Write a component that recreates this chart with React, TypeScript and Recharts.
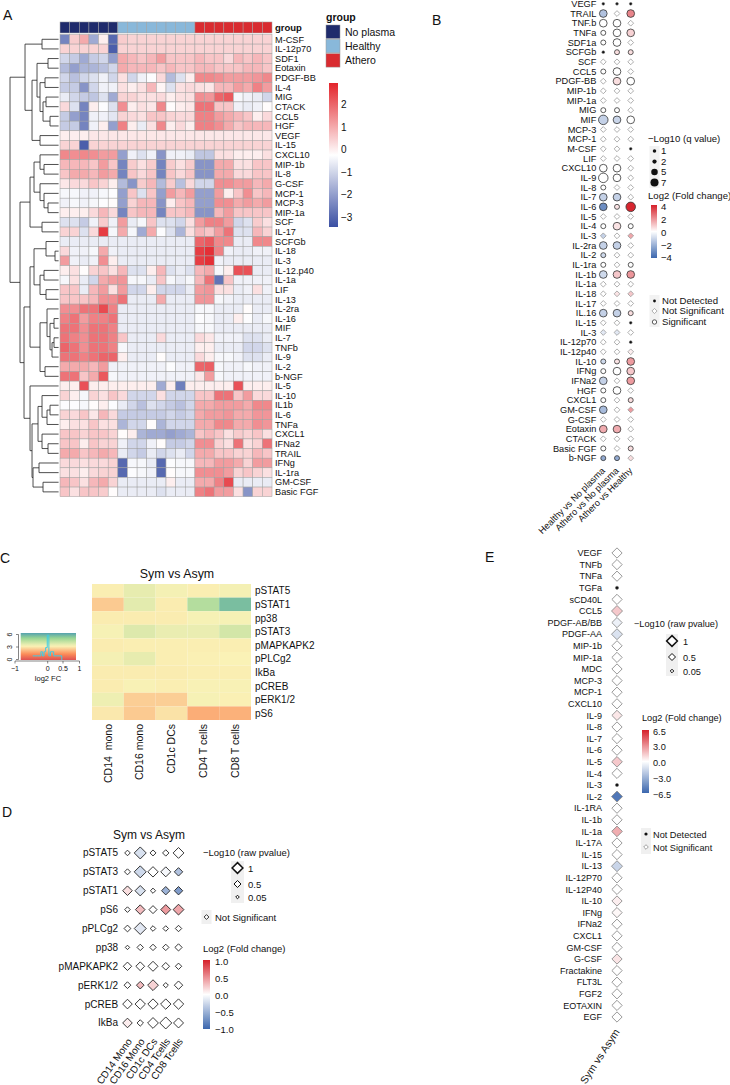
import React from "react";
import { ScatterChart, Scatter, XAxis, YAxis, ReferenceLine, LineChart, Line } from "recharts";

const FONT = "'Liberation Sans', Arial, Helvetica, sans-serif";

// ---------------- colour helpers ----------------
const hex = (c: string) => [1, 3, 5].map((i) => parseInt(c.slice(i, i + 2), 16));
const ramp = (stops: [number, string][]) => (v: number) => {
  if (v <= stops[0][0]) return stops[0][1];
  for (let i = 1; i < stops.length; i++) {
    if (v <= stops[i][0]) {
      const [v0, c0] = stops[i - 1];
      const [v1, c1] = stops[i];
      const t = (v - v0) / (v1 - v0);
      const a = hex(c0), b = hex(c1);
      return `rgb(${a.map((x, k) => Math.round(x + (b[k] - x) * t)).join(",")})`;
    }
  }
  return stops[stops.length - 1][1];
};

const colA = ramp([[-3.47, "#3A4FA3"], [-0.25, "#FFFFFF"], [2.96, "#E3242B"]]);
const colB = ramp([[-4, "#3B67AE"], [0, "#FFFFFF"], [4, "#D6202A"]]);
const colC = ramp([[-1, "#3288BD"], [-0.5, "#99D594"], [0, "#FAF2B6"], [0.5, "#FC8D59"], [1, "#D53E4F"]]);
const colD = ramp([[-1, "#3B67AE"], [0, "#FFFFFF"], [1, "#D6202A"]]);
const colE = ramp([[-6.5, "#3B67AE"], [0, "#FFFFFF"], [6.5, "#D6202A"]]);

// ---------------- A: plasma heatmap ----------------
const groupNames = ["No plasma", "Healthy", "Athero"];
const groupColors = ["#1F2B6C", "#89B8DA", "#D92B30"];
const groupOfColumn = [0, 0, 0, 0, 0, 0, 1, 1, 1, 1, 1, 1, 1, 1, 2, 2, 2, 2, 2, 2, 2, 2];

const rowsA = [
  "M-CSF", "IL-12p70", "SDF1", "Eotaxin", "PDGF-BB", "IL-4", "MIG", "CTACK", "CCL5", "HGF", "VEGF", "IL-15",
  "CXCL10", "MIP-1b", "IL-8", "G-CSF", "MCP-1", "MCP-3", "MIP-1a", "SCF", "IL-17", "SCFGb", "IL-18", "IL-3",
  "IL-12.p40", "IL-1a", "LIF", "IL-13", "IL-2ra", "IL-16", "MIF", "IL-7", "TNFb", "IL-9", "IL-2", "b-NGF",
  "IL-5", "IL-10", "IL1b", "IL-6", "TNFa", "CXCL1", "IFNa2", "TRAIL", "IFNg", "IL-1ra", "GM-CSF", "Basic FGF",
];

// scaled expression, one row per cytokine, columns: 6 no plasma, 8 healthy, 8 athero
const heatA: number[][] = [
  [-2.5, 0.5, 1.0, -1.8, 0.0, -3.0, 0.5, 0.4, 0.4, 0.4, 0.4, 0.4, 0.4, 0.4, 0.4, 0.4, 0.4, 0.4, 0.4, 0.4, 0.4, 0.4],
  [0.4, 0.4, 0.4, 0.4, 0.4, -3.2, 0.4, 0.4, 0.4, 0.4, 0.4, 0.4, 0.4, 0.4, 0.4, 0.4, 0.4, 0.4, 0.4, 0.4, 0.4, 0.4],
  [-1.0, -1.2, -1.8, -1.2, -1.0, -2.0, 1.0, 0.8, 0.6, 0.8, 1.2, 0.6, 0.6, 0.6, 0.8, 0.6, 0.6, 0.3, 0.8, 0.6, 0.8, 0.6],
  [-1.5, -2.0, -1.6, -1.6, -1.4, -1.0, 1.0, 0.8, 0.8, 0.8, 0.6, 0.8, 0.6, 0.6, 0.8, 0.8, 0.6, 0.6, 0.6, 0.8, 0.8, 0.6],
  [-1.0, -1.4, -1.0, -0.8, -0.5, -1.0, 0.2, -1.0, -0.5, -0.3, 0.3, -1.5, -0.8, 0.0, 1.5, 1.5, 1.4, 1.2, 1.2, 1.2, 1.3, 1.5],
  [-1.2, -1.2, -2.2, -1.0, -0.5, -0.5, 0.2, 0.0, 0.2, 0.8, -0.1, -0.8, 0.2, 0.3, 0.2, 0.1, 0.8, 0.8, 1.2, 1.0, 1.6, 1.2],
  [-0.6, -1.0, -1.2, -1.3, -0.8, -1.8, 0.4, 0.4, 0.2, 0.2, 0.3, 0.0, 0.2, 0.2, 1.4, 1.3, 2.0, 2.2, -0.4, -0.5, -0.6, -1.0],
  [0.3, -0.8, -2.5, 0.0, -0.3, -0.8, 1.4, 0.0, 0.2, 0.1, 1.5, -0.2, 0.0, 0.1, 1.8, 1.8, 0.6, 0.6, -0.5, -0.6, -0.5, -0.2],
  [-1.2, -2.0, -2.5, -0.5, -0.5, -0.7, 0.4, 0.3, 0.2, 0.6, 0.6, 0.4, 0.3, 0.3, 1.6, 1.6, 1.2, 1.0, 0.8, 0.6, 0.0, 0.3],
  [-1.2, -1.2, -2.5, -0.5, 0.0, -2.0, 1.6, 0.0, -0.6, 0.2, 1.5, 0.0, 0.3, 0.0, 1.6, 1.6, 1.4, 1.0, 0.6, 0.8, 0.8, 0.8],
  [0.0, 0.0, 0.0, 0.1, 0.1, 0.1, 0.1, 0.1, 0.1, 0.1, 0.1, 0.1, 0.1, 0.1, 0.1, 0.1, 0.1, 0.1, 0.1, 0.1, 0.1, 0.1],
  [0.4, 0.4, -3.2, 0.4, 0.4, 0.4, 0.4, 0.4, 0.4, 0.4, 0.4, 0.4, 0.4, 0.4, 0.4, 0.4, 0.4, 0.4, 0.4, 0.4, 0.4, 0.4],
  [1.5, 1.4, 1.5, 1.4, 1.2, 1.2, -2.0, -0.5, -0.8, -0.5, -2.2, -0.5, -0.5, -0.6, -1.3, -1.3, 0.2, 0.2, 0.0, 0.0, 0.0, 0.2],
  [0.8, 0.8, 0.8, 0.6, 1.2, 0.6, -2.5, 0.5, 0.2, 0.5, -2.5, 0.5, 0.2, 0.5, -2.2, -2.2, 1.0, 1.0, 0.2, 0.2, 0.6, 0.6],
  [0.6, 1.0, 1.0, 0.8, 1.2, 1.0, -2.5, 0.6, 0.3, 0.6, -2.5, 0.6, 0.3, 0.6, -2.2, -2.2, 1.0, 1.0, 0.3, 0.3, 0.6, 0.6],
  [0.1, 0.3, 0.3, 0.6, 0.4, 0.0, -1.5, -2.2, 0.5, 0.8, -1.5, 0.5, -1.4, 0.3, -1.0, -1.0, 1.4, 1.4, 1.2, 1.2, 0.8, 1.0],
  [-0.4, -0.4, -0.5, -0.5, -0.4, -0.3, -2.0, 0.6, -0.8, 0.6, -2.0, 1.2, 0.8, 1.2, -2.0, -2.0, 1.2, 0.0, 0.6, 1.4, 0.6, 0.8],
  [-0.5, -0.4, -0.5, -0.4, -0.3, -0.2, -2.0, 0.4, 0.8, 0.8, -2.2, 0.0, 0.6, 0.8, -2.0, -2.0, 1.4, 1.4, 1.0, 1.2, 1.0, 1.2],
  [0.0, 0.0, 0.0, 0.3, 0.8, 0.3, -2.5, 0.6, 0.8, 0.8, -2.5, 0.6, 0.6, 0.8, -2.2, -2.2, 0.8, 1.2, 0.6, 0.6, 0.6, 0.6],
  [-0.8, -0.8, -1.2, -0.5, 0.5, -0.5, 1.2, -0.6, -0.4, 0.6, -0.8, -0.8, -1.0, 0.2, 1.2, 1.6, 1.6, 1.2, -1.0, -0.8, 0.5, 0.2],
  [0.4, 0.4, -0.8, 0.3, 2.6, -0.4, 1.0, -0.4, -1.8, 1.0, -0.3, -0.8, -1.6, 0.2, 0.8, 0.6, 1.2, 1.8, -0.8, -0.8, 0.8, 0.4],
  [-0.6, -0.6, -0.6, -0.6, -0.6, -0.6, -0.6, -0.6, -0.6, -0.6, -0.6, -0.6, -0.6, -0.6, 2.0, 2.2, 1.5, 1.5, -0.6, -0.6, 1.5, 1.5],
  [0.3, -0.5, -0.5, -0.4, 1.0, -0.5, -0.6, -0.6, -0.6, -0.6, -0.6, -0.6, -0.6, -0.6, 2.6, 2.8, 1.6, -0.5, -0.6, -0.6, -0.5, -0.5],
  [1.2, -0.5, -0.6, -0.5, 1.4, 0.0, -0.6, -0.6, -0.6, -0.6, -0.6, -0.6, -0.6, -0.6, 2.6, 2.8, -0.5, -0.6, -0.6, -0.6, -0.6, -0.6],
  [0.0, 0.2, -0.2, 0.4, 0.6, 0.2, 0.8, -0.8, -0.8, 0.0, 0.8, -0.8, -0.6, -0.8, 0.8, 1.0, -0.4, 0.0, 2.3, 2.3, -0.6, -0.6],
  [-0.4, 0.2, -0.6, -1.0, 1.0, 1.2, 1.3, -0.4, -0.4, -0.6, 0.6, -0.4, -0.6, -0.4, 0.8, 1.8, -2.8, 0.6, -0.5, -0.5, -0.5, -0.5],
  [0.6, 0.6, -0.6, 0.8, 1.2, 0.2, 1.2, -1.0, -1.0, 0.0, -1.0, -1.0, -1.0, -0.6, 1.2, 1.3, 0.2, 0.2, -0.6, -0.5, 0.2, -0.5],
  [0.6, 0.6, 0.6, 0.8, 1.4, 1.4, 1.8, -0.6, -0.6, -0.6, 1.0, -0.6, -0.6, -0.6, 1.3, 1.3, -0.4, -0.5, -0.6, -0.6, -0.6, -0.6],
  [1.4, 1.4, 1.8, 1.8, 2.4, 1.6, -0.6, -0.6, -0.6, -0.6, -0.6, -0.6, -0.6, -0.6, -0.4, -0.4, -0.6, -0.6, -0.6, -0.2, -0.6, -0.6],
  [1.6, 1.8, 1.2, 1.6, 1.6, 1.8, -0.6, -0.6, -0.6, -0.6, -0.6, -0.6, -0.6, -0.6, -0.3, -0.4, -0.6, -0.6, 0.0, -0.3, -0.6, -0.4],
  [1.8, 1.8, 1.4, 1.8, 1.8, 1.6, -0.6, -0.6, -0.6, -0.6, -0.6, -0.6, -0.6, -0.6, -0.4, -0.4, -0.6, -0.6, -0.6, -0.6, -0.6, -0.6],
  [1.8, 1.6, 1.4, 1.8, 1.8, 1.6, 0.6, -0.6, -0.6, -0.6, 0.3, -0.6, -0.6, -0.6, 0.3, 0.1, -0.5, -0.5, -0.5, -0.8, -0.8, -0.6],
  [2.0, 1.8, 1.4, 1.8, 1.8, 1.6, -0.4, -0.6, -0.6, -0.6, -0.6, -0.6, -0.6, -0.6, 0.0, 0.0, -0.6, -0.6, -0.6, -1.0, -1.0, -0.8],
  [1.8, 1.8, 1.6, 1.8, 2.0, 2.0, 0.0, -0.6, -0.6, -0.6, -0.2, -0.6, -0.6, -0.6, 0.3, 0.0, -0.4, -0.4, -0.5, -0.8, -0.8, -0.6],
  [1.0, 1.0, 1.0, 0.8, 1.2, -0.5, -0.5, -0.5, -0.5, -0.5, -0.5, -0.3, -0.5, -0.5, 2.0, 2.1, -0.4, -0.5, -0.5, -0.4, -0.5, -0.5],
  [1.8, 1.8, 0.6, 1.0, 2.2, -0.4, -0.5, -0.5, -0.5, -0.5, -0.5, -0.5, -0.5, -0.5, 0.1, 1.2, -0.4, -0.5, -0.5, -0.5, -0.5, -0.5],
  [0.0, 0.0, 2.3, 0.0, 0.0, 0.0, 0.0, 0.0, 0.0, 0.0, -1.8, 0.0, -2.6, 0.0, 0.0, 0.0, 0.0, 0.0, 2.3, 0.0, 0.0, 0.0],
  [0.4, 0.0, -0.4, 0.4, 0.2, 0.6, 0.3, -1.0, -1.0, -1.0, 0.2, -1.0, -1.0, -1.0, 0.6, 0.6, 1.8, 1.8, 0.6, 1.2, 0.3, 0.3],
  [-0.3, -0.3, -0.4, -0.2, 0.0, -0.3, -0.6, -1.0, -1.4, -0.8, -1.0, -1.2, -1.4, -1.0, 1.0, 1.0, 1.2, 1.2, 1.2, 1.0, 1.5, 1.5],
  [0.4, 0.3, 0.6, 0.1, 0.8, 0.3, -1.2, -1.2, -1.2, -1.2, -1.2, -1.0, -1.2, -1.0, 1.0, 1.2, 1.2, 1.3, 1.0, 1.0, 1.3, 1.3],
  [0.0, 0.2, 0.2, 0.6, 0.2, 0.2, -1.6, -1.0, -1.0, -0.2, -1.6, -1.0, -1.0, -1.0, 1.0, 1.0, 1.5, 1.5, 1.0, 1.0, 1.4, 1.3],
  [0.6, 0.6, 0.4, 0.6, 0.6, 0.4, -0.2, 0.0, -1.6, -1.8, -1.8, -2.0, -1.8, -1.6, 0.6, 0.8, 0.6, 0.2, 0.5, 0.4, 0.6, 0.2],
  [0.6, 0.6, 0.0, 0.6, 0.4, 0.4, -0.5, -1.0, -1.0, -0.5, -0.2, -1.2, -1.2, -1.0, 1.4, 1.4, 0.4, 0.2, 1.8, 0.2, 0.4, 1.8],
  [1.0, 1.0, 0.6, 0.8, 1.0, 0.8, -0.6, -1.0, -1.2, -0.6, -1.0, -0.8, -0.6, -1.0, 1.0, 1.0, 0.6, 0.6, 0.4, 0.4, 0.8, 0.6],
  [0.3, 0.3, 0.2, 0.3, 0.3, 0.4, -3.0, -0.4, -0.4, -0.6, -3.0, -0.3, -0.4, -0.4, 0.8, 0.8, 1.2, 1.2, 1.0, 0.4, 1.2, 1.2],
  [0.2, 0.2, 0.0, 0.3, 0.4, 0.4, -3.0, -0.3, -0.4, -0.5, -3.0, -0.2, -0.4, -0.4, 1.4, 1.4, 1.4, 1.2, 0.4, 0.6, 0.4, 0.2],
  [0.8, 0.6, 0.2, 0.8, 1.0, 0.4, -0.6, -0.6, -0.6, -0.6, -0.6, 0.0, -0.6, -0.6, 1.0, 1.0, 1.6, 2.4, -0.6, -0.6, -0.6, -0.6],
  [0.6, 0.2, 0.6, 0.6, 0.5, -0.2, -0.6, -0.6, -0.6, -0.6, -0.8, -0.6, -0.6, -0.6, 1.6, 1.8, 1.2, 1.2, 0.2, -2.2, 0.4, 0.4],
];

// row dendrogram: [merge height, left, right]
type DNode = string | [number, DNode, DNode];
const dendroA: DNode = [50,
  [35, [18, "M-CSF", "IL-12p70"],
    [28, [23, [12, "SDF1", "Eotaxin"], [20, [15, "PDGF-BB", "IL-4"], [17, [14, "MIG", "CTACK"], [10, "CCL5", "HGF"]]]],
      [20, "VEGF", "IL-15"]]],
  [40,
    [30, [26, [20, "CXCL10", [16, "MIP-1b", "IL-8"]], [20, "G-CSF", [16, "MCP-1", [12, "MCP-3", "MIP-1a"]]]],
      [18, "SCF", "IL-17"]],
    [36,
      [30, [26, [14, "SCFGb", [5, "IL-18", "IL-3"]], [20, [16, "IL-12.p40", "IL-1a"], [14, "LIF", "IL-13"]]],
        [20, [13, "IL-2ra", [10, [6, "IL-16", "MIF"], [8, [6, "IL-7", "TNFb"], "IL-9"]]], [15, "IL-2", "b-NGF"]]],
      [30, "IL-5", [28, [22, [18, "IL-10", [13, [10, "IL1b", "IL-6"], "TNFa"]], [18, "CXCL1", [12, "IFNa2", "TRAIL"]]],
        [27, [21, "IFNg", "IL-1ra"], [17, "GM-CSF", "Basic FGF"]]]]]]];

// ---------------- B: fold-change dot plot ----------------
const compsB = ["Healthy vs No plasma", "Athero vs No plasma", "Athero vs Healthy"];
const rowsB = [
  "VEGF", "TRAIL", "TNF.b", "TNFa", "SDF1a", "SCFGb", "SCF", "CCL5", "PDGF-BB", "MIP-1b", "MIP-1a", "MIG",
  "MIF", "MCP-3", "MCP-1", "M-CSF", "LIF", "CXCL10", "IL-9", "IL-8", "IL-7", "IL-6", "IL-5", "IL-4",
  "IL-3", "IL-2ra", "IL-2", "IL-1ra", "IL-1b", "IL-1a", "IL-18", "IL-17", "IL.16", "IL-15", "IL-3", "IL-12p70",
  "IL-12p40", "IL-10", "IFNg", "IFNa2", "HGF", "CXCL1", "GM-CSF", "G-CSF", "Eotaxin", "CTACK", "Basic FGF", "b-NGF",
];
// D = not detected, N = not significant, S = significant
const statusB = [
  "DDD", "SNS", "SSN", "SSS", "SSN", "DSS", "NNN", "SSN", "NSS", "NNN", "NNN", "SSN",
  "SSS", "NNN", "NNN", "NND", "NNN", "SSN", "SSN", "SNN", "SSN", "SSS", "NNN", "SSS",
  "NNN", "SSN", "SNN", "SNS", "SSS", "NNN", "NNN", "NNN", "SSS", "NND", "NNN", "NND",
  "NNN", "SSS", "SSS", "SNS", "SSN", "SNS", "SNN", "NNN", "SSN", "NNN", "SNS", "SSN",
];
const fcB: number[][] = [
  [0, 0, 0], [-1.6, 0, 2.2], [0, 0, 0], [0, 0, 0.8], [0, 0, 0], [0, 0.6, 0.6], [0, 0, 0], [0, 0, 0],
  [0, 0.6, 0], [0, 0, 0], [0, 0, 0], [0, 0, 0], [-1.2, -1.1, 0], [0, 0, 0], [0, 0, 0], [0, 0, 0],
  [0, 0, 0], [0, 0, 0], [0, 0, 0], [0, 0, 0], [-1.2, -1.2, 0], [-3.0, 0.5, 3.9], [0, 0, 0], [0, 0.5, 0],
  [-1.2, 0, 1.6], [-1.2, -1.2, 0], [-1.0, 0, 0], [0, 0, 0], [-1.0, 1.0, 1.9], [0, 0, 0], [0, 0.5, 1.0], [0, 0, 0],
  [-1.2, -1.2, 0.6], [0, 0, 0], [-0.6, -0.6, 0], [0, 0, 0], [0, 0, 0.3], [-1.0, 0.5, 1.8], [0, 0, 1.0], [-1.2, 0, 1.8],
  [0, 0, 0], [0, 0, 0.6], [-1.8, 0, 1.8], [0, 0, 0], [1.5, 1.5, 0], [0, 0, 0], [0, 0, 0.6], [-2.2, -2.2, 0.6],
];
// -log10(q value) of significant cells
const qB: number[][] = [
  [0, 0, 0], [5, 0, 5], [5, 5, 0], [2, 5, 5], [2, 5, 0], [0, 2, 2], [0, 0, 0], [2, 5, 0],
  [0, 5, 5], [0, 0, 0], [0, 0, 0], [2, 2, 0], [7, 5, 5], [0, 0, 0], [0, 0, 0], [0, 0, 0],
  [0, 0, 0], [5, 5, 0], [7, 5, 0], [2, 0, 0], [5, 5, 0], [5, 2, 7], [0, 0, 0], [2, 5, 2],
  [0, 0, 0], [5, 5, 0], [2, 0, 0], [2, 0, 2], [5, 5, 5], [0, 0, 0], [0, 0, 0], [0, 0, 0],
  [5, 5, 2], [0, 0, 0], [0, 0, 0], [0, 0, 0], [0, 0, 0], [2, 2, 5], [2, 5, 5], [5, 0, 5],
  [2, 5, 0], [2, 0, 2], [5, 0, 0], [0, 0, 0], [5, 5, 0], [0, 0, 0], [2, 0, 2], [2, 2, 0],
];

// ---------------- C: phospho heatmap ----------------
const rowsC = ["pSTAT5", "pSTAT1", "pp38", "pSTAT3", "pMAPKAPK2", "pPLCg2", "IkBa", "pCREB", "pERK1/2", "pS6"];
const colsC = ["CD14  mono", "CD16 mono", "CD1c DCs", "CD4 T cells", "CD8 T cells"];
const fcC: number[][] = [
  [0.02, -0.1, -0.03, 0.02, -0.03],
  [0.2, -0.12, 0.03, -0.36, -0.65],
  [0.03, 0.03, 0.03, -0.02, -0.02],
  [-0.02, -0.15, -0.08, -0.08, -0.2],
  [0.03, 0.02, 0.02, 0.02, 0.02],
  [-0.03, -0.1, 0.02, 0.01, 0.0],
  [0.03, 0.03, 0.03, 0.02, 0.02],
  [0.03, -0.01, 0.02, -0.01, -0.01],
  [-0.06, 0.18, 0.18, -0.02, 0.01],
  [0.05, 0.2, 0.08, 0.34, 0.32],
];
// colour-key histogram
const histX = [-0.45, -0.4, -0.3, -0.2, -0.15, -0.1, -0.05, 0, 0.05, 0.1, 0.2, 0.3, 0.45];
const histN = [1, 1, 1, 2, 1, 2, 3, 6, 1, 2, 1, 1, 0];

// ---------------- D: phospho diamonds ----------------
const rowsD = ["pSTAT5", "pSTAT3", "pSTAT1", "pS6", "pPLCg2", "pp38", "pMAPKAPK2", "pERK1/2", "pCREB", "IkBa"];
const colsD = ["CD14 Mono", "CD16 Mono", "CD1c DCs", "CD4 Tcells", "CD8 Tcells"];
const pD: number[][] = [
  [0.2, 1.0, 0.25, 0.3, 0.85],
  [0.25, 1.0, 0.8, 0.75, 0.55],
  [0.7, 0.8, 0.15, 0.55, 0.55],
  [0.2, 0.7, 0.5, 0.75, 0.85],
  [0.35, 1.0, 0.2, 0.2, 0.3],
  [0.05, 0.3, 0.3, 0.3, 0.4],
  [0.55, 0.6, 0.75, 0.45, 0.3],
  [0.35, 0.45, 0.85, 0.15, 0.55],
  [0.7, 0.8, 0.8, 0.8, 0.8],
  [0.7, 0.3, 0.85, 1.0, 0.75],
];
const fcD: number[][] = [
  [0, -0.2, 0, 0, 0],
  [0, -0.25, 0, -0.05, -0.4],
  [0.15, -0.2, 0, -0.5, -0.65],
  [0, 0.3, 0, 0.45, 0.4],
  [0, -0.15, 0, 0, 0],
  [0, 0, 0, 0, 0],
  [0, 0, 0, 0, 0],
  [0, 0.3, 0.2, 0, 0],
  [0, 0, 0, 0, 0],
  [0.08, 0, 0, 0, 0],
];

// ---------------- E: plasma Sym vs Asym ----------------
const rowsE = [
  "VEGF", "TNFb", "TNFa", "TGFa", "sCD40L", "CCL5", "PDGF-AB/BB", "PDGF-AA", "MIP-1b", "MIP-1a", "MDC",
  "MCP-3", "MCP-1", "CXCL10", "IL-9", "IL-8", "IL-7", "IL-6", "IL-5", "IL-4", "IL-3", "IL-2", "IL-1RA",
  "IL-1b", "IL-1a", "IL-17A", "IL-15", "IL-13", "IL-12P70", "IL-12P40", "IL-10", "IFNg", "IFNa2", "CXCL1",
  "GM-CSF", "G-CSF", "Fractakine", "FLT3L", "FGF2", "EOTAXIN", "EGF",
];
const fcE = [
  0, 0, 0, 0, 0, 1.6, -0.6, -1.2, 0, 0, 0, 0, 0, 0, 0.7, 0, 0, 0, 1.6, 0, 0, -5.8, 0,
  0, 2.4, 0, 0, -1.8, 0, 0, 0.5, 0.2, 0, 0, 0, 0.8, 0, 0, 0, 0, 0,
];
const detectedE = [
  1, 1, 1, 0, 1, 1, 1, 1, 1, 1, 1, 1, 1, 1, 1, 1, 1, 1, 1, 1, 0, 1, 1,
  1, 1, 1, 1, 1, 1, 1, 1, 1, 1, 1, 1, 1, 1, 1, 1, 1, 1,
];
const pE = [
  0.9, 0.9, 0.9, 0, 0.9, 1.0, 0.9, 1.0, 0.9, 0.9, 0.9, 0.9, 0.9, 0.9, 0.9, 0.9, 0.9, 0.9, 0.95, 0.9, 0, 1.0, 0.9,
  0.9, 0.95, 0.9, 0.9, 1.0, 0.9, 0.9, 0.9, 0.9, 0.9, 0.9, 0.9, 0.9, 0.9, 0.9, 0.9, 0.9, 0.9,
];

// ---------------- derived tables ----------------
const A_SPAN = 27.4; // x domain width
const PX_A = (272 - 8) / A_SPAN;
const GROUP_Y = -0.727;

const cellsA = heatA.flatMap((row, i) => row.map((v, j) => ({ x: j + 0.5, y: i + 0.5, v })));
const groupCellsA = groupOfColumn.map((g, j) => ({ x: j + 0.5, y: GROUP_Y, g }));
const ticksA = [GROUP_Y, ...rowsA.map((_, i) => i + 0.5)];

type Seg = [number, number, number, number];
const dendroSegs: Seg[] = [];
const layoutDendro = (n: DNode): { x: number; y: number } => {
  if (typeof n === "string") return { x: -0.15, y: rowsA.indexOf(n) + 0.5 };
  const [h, l, r] = n;
  const a = layoutDendro(l);
  const b = layoutDendro(r);
  const x = -h / PX_A;
  dendroSegs.push([x, a.y, x, b.y], [x, a.y, a.x, a.y], [x, b.y, b.x, b.y]);
  return { x, y: (a.y + b.y) / 2 };
};
layoutDendro(dendroA);

const cellsB = rowsB.flatMap((_, i) =>
  compsB.map((__, j) => ({ x: j, y: i, s: statusB[i][j], fc: fcB[i][j], q: qB[i][j] }))
);
const cellsC = fcC.flatMap((row, i) => row.map((v, j) => ({ x: j, y: i, v })));
const cellsD = pD.flatMap((row, i) => row.map((p, j) => ({ x: j, y: i, p, fc: fcD[i][j] })));
const cellsE = rowsE.map((_, i) => ({ x: 0, y: i, fc: fcE[i], det: detectedE[i], p: pE[i] }));
const histData = histX.map((x, i) => ({ x, n: histN[i] }));

const qRadius = (q: number) => 1.6 + 0.45 * q;
const diamond = (cx: number, cy: number, s: number) => `M${cx},${cy - s}L${cx + s},${cy}L${cx},${cy + s}L${cx - s},${cy}Z`;

// ---------------- shapes ----------------
const HeatCellA = (p: any) => (
  <rect x={p.cx - PX_A / 2} y={p.cy - PX_A / 2} width={PX_A} height={PX_A} fill={colA(p.payload.v)} stroke="#a0a0a0" strokeWidth={0.5} />
);
const GroupCellA = (p: any) => (
  <rect x={p.cx - PX_A / 2} y={p.cy - 5.5} width={PX_A} height={11} fill={groupColors[p.payload.g]} stroke="#a0a0a0" strokeWidth={0.5} />
);
const DotB = (p: any) => {
  const { cx, cy, payload: d } = p;
  if (d.s === "D") return <circle cx={cx} cy={cy} r={1.4} fill="#111" stroke="#777" strokeWidth={0.5} />;
  if (d.s === "N") return <path d={diamond(cx, cy, 2.9)} fill={colB(d.fc)} stroke="#9a9a9a" strokeWidth={0.8} />;
  return <circle cx={cx} cy={cy} r={qRadius(d.q)} fill={colB(d.fc)} stroke="#333" strokeWidth={0.8} />;
};
const CellC = (p: any) => (
  <rect x={p.cx - 15.9} y={p.cy - 6.8} width={31.8} height={13.6} fill={colC(p.payload.v)} />
);
const DiamondD = (p: any) => (
  <path d={diamond(p.cx, p.cy, 2 + 4 * p.payload.p)} fill={colD(p.payload.fc)} stroke="#222" strokeWidth={0.9} />
);
const DiamondE = (p: any) => {
  const d = p.payload;
  if (!d.det) return <circle cx={p.cx} cy={p.cy} r={1.6} fill="#111" stroke="#666" strokeWidth={0.5} />;
  return <path d={diamond(p.cx, p.cy, 1.8 + 3.7 * d.p)} fill={colE(d.fc)} stroke="#8c8c8c" strokeWidth={0.9} />;
};

// ---------------- ticks ----------------
const txt = { fontFamily: FONT, fill: "#111" };
const TickA = (p: any) => {
  const v = p.payload.value;
  if (v < 0) return <text x={p.x + 3} y={p.y} dy="0.35em" fontSize={9.5} fontWeight="bold" {...txt}>group</text>;
  return <text x={p.x + 3} y={p.y} dy="0.35em" fontSize={9.2} {...txt}>{rowsA[Math.floor(v)]}</text>;
};
const leftTick = (labels: string[], size: number, gap: number) => (p: any) => (
  <text x={p.x - gap} y={p.y} dy="0.35em" textAnchor="end" fontSize={size} {...txt}>{labels[Math.round(p.payload.value)]}</text>
);
const rightTick = (labels: string[], size: number, gap: number) => (p: any) => (
  <text x={p.x + gap} y={p.y} dy="0.35em" fontSize={size} {...txt}>{labels[Math.round(p.payload.value)]}</text>
);
const angledTick = (labels: string[], size: number, angle: number, dx: number, dy: number) => (p: any) => {
  const x = p.x + dx, y = p.y + dy;
  return (
    <text x={x} y={y} transform={`rotate(${angle} ${x} ${y})`} textAnchor="end" dy="0.35em" fontSize={size} {...txt} style={{ whiteSpace: "pre" }}>
      {labels[Math.round(p.payload.value)]}
    </text>
  );
};

// ---------------- legend pieces ----------------
const Bar = ({ id, x, y, w, h, top, bottom, col }: any) => {
  const n = 20;
  return (
    <g>
      <defs>
        <linearGradient id={id} x1="0" y1="0" x2="0" y2="1">
          {Array.from({ length: n + 1 }, (_, i) => (
            <stop key={i} offset={i / n} stopColor={col(top + (bottom - top) * (i / n))} />
          ))}
        </linearGradient>
      </defs>
      <rect x={x} y={y} width={w} height={h} fill={`url(#${id})`} />
    </g>
  );
};
const T = ({ children, ...rest }: any) => (
  <text fontFamily={FONT} fill="#111" {...rest}>{children}</text>
);

const Overlay = () => (
  <svg width={730} height={1085} style={{ position: "absolute", left: 0, top: 0, pointerEvents: "none" }}>
    {/* panel letters */}
    <T x={3} y={20} fontSize={14}>A</T>
    <T x={432} y={25} fontSize={14}>B</T>
    <T x={0} y={563} fontSize={14}>C</T>
    <T x={2} y={817} fontSize={14}>D</T>
    <T x={485} y={562} fontSize={14}>E</T>

    {/* A legend */}
    <T x={326} y={21} fontSize={10.5} fontWeight="bold">group</T>
    {groupNames.map((g, i) => (
      <g key={g}>
        <rect x={326} y={25 + i * 14.3} width={14} height={13.5} fill={groupColors[i]} stroke="#999" strokeWidth={0.5} />
        <T x={345} y={35.5 + i * 14.3} fontSize={10.5}>{g}</T>
      </g>
    ))}
    <Bar id="gA" x={329} y={83} w={9} h={144} top={2.96} bottom={-3.47} col={colA} />
    {[2, 1, 0, -1, -2, -3].map((v) => (
      <T key={v} x={341} y={149.5 - v * 22.5 + 3.5} fontSize={10}>{v < 0 ? `\u2212${-v}` : v}</T>
    ))}

    {/* B legend */}
    <T x={648} y={141.5} fontSize={9.6}>{"\u2212Log10 (q value)"}</T>
    <rect x={649.5} y={146} width={10} height={42} fill="#F2F2F2" />
    {[1, 2, 5, 7].map((q, i) => (
      <g key={q}>
        <circle cx={654.5} cy={151 + i * 10.5} r={qRadius(q) * 0.85} fill="#111" />
        <T x={661} y={154.3 + i * 10.5} fontSize={9.6}>{q}</T>
      </g>
    ))}
    <T x={648} y={198.5} fontSize={9.6}>Log2 (Fold change)</T>
    <Bar id="gB" x={651} y={205} w={6} h={53} top={4} bottom={-4} col={colB} />
    {[4, 2, 0, -2, -4].map((v, i) => (
      <T key={v} x={661} y={206.5 + i * 12.9 + 3.3} fontSize={9.6}>{v < 0 ? `\u2212${-v}` : v}</T>
    ))}
    <rect x={649.5} y={295} width={10} height={32} fill="#F2F2F2" />
    <circle cx={654.5} cy={301} r={1.4} fill="#111" />
    <path d={diamond(654.5, 311, 2.6)} fill="#fff" stroke="#9a9a9a" strokeWidth={0.8} />
    <circle cx={654.5} cy={322} r={2.2} fill="#fff" stroke="#333" strokeWidth={0.8} />
    <T x={662} y={304.3} fontSize={9.6}>Not Detected</T>
    <T x={662} y={314.3} fontSize={9.6}>Not Significant</T>
    <T x={662} y={325.3} fontSize={9.6}>Significant</T>

    {/* C title and colour key */}
    <T x={177} y={578} fontSize={12.4} textAnchor="middle">Sym vs Asym</T>
    <Bar id="gC" x={20.7} y={633} w={55.3} h={27} top={-0.83} bottom={0.88} col={colC} />
    {[["\u22121", 15], ["0", 47.7], ["0.5", 63], ["1", 79.5]].map(([l, x]) => (
      <g key={l as string}>
        <line x1={x as number} x2={x as number} y1={661} y2={663.5} stroke="#333" strokeWidth={0.6} />
        <T x={x} y={671} fontSize={7} textAnchor="middle">{l}</T>
      </g>
    ))}
    <line x1={15} x2={79.5} y1={661} y2={661} stroke="#333" strokeWidth={0.6} />
    {[["0", 659.5], ["3", 647], ["6", 634.5]].map(([l, y]) => (
      <g key={l as string}>
        <line x1={16} x2={18.5} y1={y as number} y2={y as number} stroke="#333" strokeWidth={0.6} />
        <T x={12} y={y} fontSize={7} textAnchor="middle" transform={`rotate(-90 12 ${y})`}>{l}</T>
      </g>
    ))}
    <line x1={18.5} x2={18.5} y1={634.5} y2={659.5} stroke="#333" strokeWidth={0.6} />
    <T x={48} y={681} fontSize={7.5} textAnchor="middle">log2 FC</T>

    {/* D title and legend */}
    <T x={149} y={839} fontSize={12} textAnchor="middle">Sym vs Asym</T>
    <T x={203} y={856} fontSize={9.5}>{"\u2212Log10 (raw pvalue)"}</T>
    <rect x={231} y={861} width={13} height={42} fill="#F0F0F0" />
    {[[1, 868], [0.5, 884], [0.05, 897]].map(([p, y]) => (
      <g key={p}>
        <path d={diamond(237.5, y, 1.6 + 3.8 * p)} fill="#fff" stroke="#111" strokeWidth={p === 1 ? 1.5 : 1} />
        <T x={248} y={y + 3.5} fontSize={9.5}>{p}</T>
      </g>
    ))}
    <rect x={201.5} y={910} width={10} height={14} fill="#F0F0F0" />
    <path d={diamond(206.5, 917, 2.4)} fill="#fff" stroke="#222" strokeWidth={0.9} />
    <T x={215} y={920.5} fontSize={9.5}>Not Significant</T>
    <T x={203} y={952} fontSize={9.5}>Log2 (Fold change)</T>
    <Bar id="gD" x={203} y={960} w={7} h={69} top={1} bottom={-1} col={colD} />
    {["1.0", "0.5", "0.0", "\u22120.5", "\u22121.0"].map((l, i) => (
      <T key={l} x={215} y={961 + i * 17.1 + 3.5} fontSize={9.5}>{l}</T>
    ))}

    {/* E legend */}
    <T x={634} y={627} fontSize={9.2}>{"\u2212Log10 (raw pvalue)"}</T>
    <rect x={666} y={634} width={12} height={42} fill="#F0F0F0" />
    {[[1, 641], [0.5, 657], [0.05, 671]].map(([p, y]) => (
      <g key={p}>
        <path d={diamond(672, y, 1.6 + 3.8 * p)} fill="#fff" stroke="#111" strokeWidth={p === 1 ? 1.5 : 1} />
        <T x={683} y={y + 3.5} fontSize={9.2}>{p}</T>
      </g>
    ))}
    <T x={642} y={721} fontSize={9.2}>Log2 (Fold change)</T>
    <Bar id="gE" x={642} y={730} w={7} h={63} top={6.5} bottom={-6.5} col={colE} />
    {["6.5", "3.0", "0.0", "\u22123.0", "\u22126.5"].map((l, i) => (
      <T key={l} x={653} y={731 + i * 15.8 + 3.5} fontSize={9.2}>{l}</T>
    ))}
    <rect x={641} y={828} width={10} height={26} fill="#F0F0F0" />
    <circle cx={646} cy={834} r={1.6} fill="#111" />
    <path d={diamond(646, 847, 2.3)} fill="#fff" stroke="#8c8c8c" strokeWidth={0.8} />
    <T x={653} y={837.5} fontSize={9.2}>Not Detected</T>
    <T x={653} y={850.5} fontSize={9.2}>Not Significant</T>
  </svg>
);

const box = (left: number, top: number): React.CSSProperties => ({ position: "absolute", left, top });
const noAxis = { axisLine: false, tickLine: false, tickSize: 0, tickMargin: 0, interval: 0 as const };

export default function App() {
  return (
    <div style={{ position: "relative", width: 730, height: 1085, background: "#fff", overflow: "hidden" }}>
      <style>{"body{margin:0}"}</style>

      {/* A */}
      <div style={box(0, 0)}>
        <ScatterChart width={340} height={500} margin={{ top: 21, right: 0, bottom: 3.3, left: 8 }}>
          <XAxis type="number" dataKey="x" domain={[-5.4, 22]} hide />
          <YAxis type="number" dataKey="y" domain={[-1.4, 48]} reversed orientation="right" width={68}
            ticks={ticksA} tick={TickA} {...noAxis} />
          {dendroSegs.map((s, i) => (
            <ReferenceLine key={i} segment={[{ x: s[0], y: s[1] }, { x: s[2], y: s[3] }]}
              stroke="#222" strokeWidth={0.8} ifOverflow="visible" />
          ))}
          <Scatter data={groupCellsA} shape={GroupCellA} isAnimationActive={false} />
          <Scatter data={cellsA} shape={HeatCellA} isAnimationActive={false} />
        </ScatterChart>
      </div>

      {/* B */}
      <div style={box(480, 0)}>
        <ScatterChart width={160} height={545} margin={{ top: 0, right: 3.8, bottom: 0, left: 0 }}>
          <XAxis type="number" dataKey="x" domain={[-0.4, 2.4]} ticks={[0, 1, 2]} height={83}
            tick={angledTick(compsB, 9.2, -45, 0, 7)} {...noAxis} />
          <YAxis type="number" dataKey="y" domain={[-0.4, 47.4]} reversed width={117.8}
            ticks={rowsB.map((_, i) => i)} tick={leftTick(rowsB, 9.2, 1.5)} {...noAxis} />
          <Scatter data={cellsB} shape={DotB} isAnimationActive={false} />
        </ScatterChart>
      </div>

      {/* C */}
      <div style={box(0, 560)}>
        <ScatterChart width={351} height={230} margin={{ top: 24, right: 0, bottom: 0, left: 92 }}>
          <XAxis type="number" dataKey="x" domain={[-0.5, 4.5]} ticks={[0, 1, 2, 3, 4]} height={70}
            tick={angledTick(colsC, 10.5, -90, 0, 4)} {...noAxis} />
          <YAxis type="number" dataKey="y" domain={[-0.5, 9.5]} reversed orientation="right" width={100}
            ticks={rowsC.map((_, i) => i)} tick={rightTick(rowsC, 10, 4)} {...noAxis} />
          <Scatter data={cellsC} shape={CellC} isAnimationActive={false} />
        </ScatterChart>
      </div>

      {/* D */}
      <div style={box(0, 820)}>
        <ScatterChart width={200} height={265} margin={{ top: 23.5, right: 15.1, bottom: 0, left: 0 }}>
          <XAxis type="number" dataKey="x" domain={[-0.5, 4.5]} ticks={[0, 1, 2, 3, 4]} height={52.6}
            tick={angledTick(colsD, 10, -55, 2, 7)} {...noAxis} />
          <YAxis type="number" dataKey="y" domain={[-0.5, 9.5]} reversed width={121.1}
            ticks={rowsD.map((_, i) => i)} tick={leftTick(rowsD, 10, 3)} {...noAxis} />
          <Scatter data={cellsD} shape={DiamondD} isAnimationActive={false} />
        </ScatterChart>
      </div>

      {/* E */}
      <div style={box(480, 540)}>
        <ScatterChart width={200} height={545} margin={{ top: 7.2, right: 56, bottom: 0, left: 0 }}>
          <XAxis type="number" dataKey="x" domain={[-0.5, 0.5]} ticks={[0]} height={62.2}
            tick={angledTick(["Sym vs Asym"], 10.5, -57, 0, 7)} {...noAxis} />
          <YAxis type="number" dataKey="y" domain={[-0.5, 40.5]} reversed width={130}
            ticks={rowsE.map((_, i) => i)} tick={leftTick(rowsE, 9, 8)} {...noAxis} />
          <Scatter data={cellsE} shape={DiamondE} isAnimationActive={false} />
        </ScatterChart>
      </div>

      <Overlay />

      {/* C colour-key histogram */}
      <div style={box(15, 634)}>
        <LineChart width={64.5} height={26} data={histData} margin={{ top: 0, right: 0, bottom: 0, left: 0 }}>
          <XAxis type="number" dataKey="x" domain={[-1, 1]} hide />
          <YAxis type="number" domain={[0, 6.3]} hide />
          <Line type="stepAfter" dataKey="n" stroke="#3FCDE6" strokeWidth={1} dot={false} isAnimationActive={false} />
        </LineChart>
      </div>
    </div>
  );
}
